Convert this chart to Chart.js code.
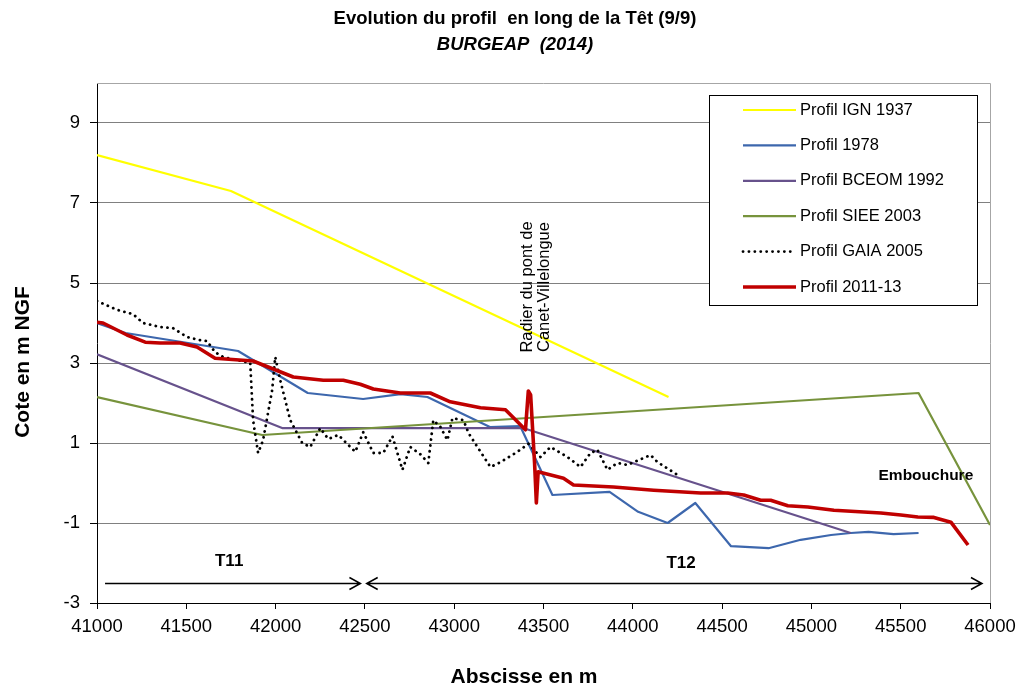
<!DOCTYPE html>
<html>
<head>
<meta charset="utf-8">
<script src="https://cdn.jsdelivr.net/npm/chart.js@4/dist/chart.umd.min.js"></script>
<style>
  html, body { margin: 0; padding: 0; background: #fff; }
  #wrap { width: 1024px; height: 690px; }
</style>
</head>
<body>
<div id="wrap"><canvas id="c" width="1024" height="690"></canvas></div>
<script>
// abscisses (m) et cotes (m NGF)
const ign1937X = [41000, 41750, 44200];
const ign1937Y = [8.2, 7.3, 2.15];

const p1978X = [41000, 41160, 41790, 42180, 42490, 42700, 42850, 43200, 43370, 43550, 43870,
  44030, 44195, 44350, 44550, 44760, 44940, 45110, 45220, 45320, 45460, 45600];
const p1978Y = [4.0, 3.75, 3.3, 2.25, 2.1, 2.22, 2.15, 1.4, 1.42, -0.3, -0.22,
  -0.72, -1.0, -0.5, -1.58, -1.63, -1.42, -1.3, -1.25, -1.22, -1.28, -1.25];

const bceomX = [41000, 42040, 43390, 45220];
const bceomY = [3.22, 1.37, 1.37, -1.25];

const sieeX = [41000, 41925, 45600, 46000];
const sieeY = [2.15, 1.2, 2.25, -1.05];

const gaiaX = [41000, 41112, 41202, 41258, 41353, 41426, 41504, 41577, 41616, 41661, 41706,
  41858, 41874, 41902, 41930, 41981, 41998, 42026, 42082, 42149, 42194, 42250, 42295, 42351,
  42446, 42491, 42547, 42603, 42654, 42710, 42754, 42810, 42855, 42883, 42923, 42962, 42990,
  43052, 43080, 43130, 43203, 43259, 43354, 43416, 43483, 43539, 43634, 43707, 43763, 43802,
  43858, 43914, 43970, 44005, 44100, 44139, 44251];
const gaiaY = [4.55, 4.33, 4.22, 4.0, 3.9, 3.87, 3.65, 3.57, 3.55, 3.27, 3.15,
  3.0, 1.57, 0.75, 1.07, 2.33, 3.15, 2.57, 1.57, 1.0, 0.9, 1.37, 1.1, 1.2,
  0.78, 1.27, 0.75, 0.75, 1.17, 0.33, 0.9, 0.72, 0.5, 1.57, 1.4, 1.07, 1.62,
  1.57, 1.25, 0.9, 0.4, 0.52, 0.78, 0.98, 0.65, 0.9, 0.65, 0.4, 0.75, 0.83,
  0.33, 0.5, 0.45, 0.52, 0.7, 0.52, 0.2];

const p2011X = [41000, 41034, 41168, 41270, 41353, 41465, 41560, 41661, 41874, 42099, 42267,
  42379, 42474, 42547, 42698, 42866, 42978, 43147, 43287, 43399, 43415, 43428, 43450, 43460,
  43470, 43612, 43668, 43892, 44117, 44380, 44531, 44621, 44716, 44772, 44868, 44980, 45126,
  45389, 45501, 45596, 45686, 45781, 45877];
const p2011Y = [4.02, 4.0, 3.7, 3.52, 3.5, 3.5, 3.4, 3.12, 3.05, 2.65, 2.57,
  2.57, 2.47, 2.35, 2.25, 2.25, 2.03, 1.88, 1.83, 1.33, 2.3, 2.2, 0.5, -0.5,
  0.28, 0.12, -0.05, -0.1, -0.18, -0.25, -0.25, -0.3, -0.43, -0.43, -0.57, -0.6, -0.68,
  -0.75, -0.8, -0.85, -0.86, -0.98, -1.55];

const xTicks = { min: 41000, max: 46000, step: 500 };
const yRange = { min: -3, max: 10 };
const yTickValues = [-3, -1, 1, 3, 5, 7, 9];

const FONT = "'Liberation Sans', Arial, sans-serif";

function pts(xs, ys) {
  return xs.map((x, i) => ({ x: x, y: ys[i] }));
}

function serie(label, xs, ys, color, width, order, dash) {
  return {
    label: label,
    data: pts(xs, ys),
    showLine: true,
    borderColor: color,
    backgroundColor: color,
    borderWidth: width,
    borderDash: dash || [],
    borderCapStyle: dash ? "round" : "butt",
    borderJoinStyle: "round",
    pointRadius: 0,
    pointHoverRadius: 0,
    tension: 0,
    order: order,
  };
}

const datasets = [
  serie("Profil IGN 1937", ign1937X, ign1937Y, "#ffff00", 2.2, 6),
  serie("Profil 1978", p1978X, p1978Y, "#3d67ad", 2.2, 5),
  serie("Profil BCEOM 1992", bceomX, bceomY, "#67528c", 2.2, 4),
  serie("Profil SIEE 2003", sieeX, sieeY, "#77933c", 2.2, 3),
  serie("Profil GAIA 2005", gaiaX, gaiaY, "#000000", 2.8, 2, [0.1, 5.8]),
  serie("Profil 2011-13", p2011X, p2011Y, "#c00000", 3.6, 1),
];

// textes, fleches, cadre et legende
const decor = {
  id: "decor",
  beforeDatasetsDraw(chart) {
    const { ctx, chartArea: a } = chart;
    ctx.save();
    ctx.strokeStyle = "#a6a6a6";
    ctx.lineWidth = 1;
    ctx.beginPath();
    ctx.moveTo(a.left, a.top + 0.5);
    ctx.lineTo(a.right + 0.5, a.top + 0.5);
    ctx.lineTo(a.right + 0.5, a.bottom);
    ctx.stroke();
    ctx.restore();
  },
  afterDraw(chart) {
    const { ctx } = chart;
    const sx = chart.scales.x, sy = chart.scales.y;
    ctx.save();
    ctx.fillStyle = "#000";
    ctx.textAlign = "center";
    ctx.textBaseline = "middle";

    ctx.font = "bold 18.5px " + FONT;
    ctx.fillText("Evolution du profil  en long de la Têt (9/9)", 515, 19);
    ctx.font = "italic bold 18.5px " + FONT;
    ctx.fillText("BURGEAP  (2014)", 515, 45);

    ctx.font = "bold 21px " + FONT;
    ctx.fillText("Abscisse en m", 524, 677);
    ctx.save();
    ctx.translate(23, 362);
    ctx.rotate(-Math.PI / 2);
    ctx.fillText("Cote en m NGF", 0, 0);
    ctx.restore();

    // pont
    ctx.font = "16.5px " + FONT;
    ctx.save();
    ctx.translate(sx.getPixelForValue(43410), sy.getPixelForValue(4.9));
    ctx.rotate(-Math.PI / 2);
    ctx.fillText("Radier du pont de", 0, 0);
    ctx.fillText("Canet-Villelongue", 0, 17);
    ctx.restore();

    ctx.font = "bold 15.5px " + FONT;
    ctx.fillText("Embouchure", sx.getPixelForValue(45641), sy.getPixelForValue(0.18));
    ctx.font = "bold 17px " + FONT;
    ctx.fillText("T11", sx.getPixelForValue(41740), sy.getPixelForValue(-1.95));
    ctx.fillText("T12", sx.getPixelForValue(44270), sy.getPixelForValue(-2.0));

    // fleches T11 / T12
    const ay = Math.round(sy.getPixelForValue(-2.5)) + 0.5;
    function arrow(x1, x2, left, right) {
      ctx.strokeStyle = "#000";
      ctx.lineWidth = 1.5;
      ctx.beginPath();
      ctx.moveTo(x1, ay);
      ctx.lineTo(x2, ay);
      if (right) {
        ctx.moveTo(x2 - 11, ay - 6);
        ctx.lineTo(x2, ay);
        ctx.lineTo(x2 - 11, ay + 6);
      }
      if (left) {
        ctx.moveTo(x1 + 11, ay - 6);
        ctx.lineTo(x1, ay);
        ctx.lineTo(x1 + 11, ay + 6);
      }
      ctx.stroke();
    }
    arrow(sx.getPixelForValue(41045), sx.getPixelForValue(42475), false, true);
    arrow(sx.getPixelForValue(42510), sx.getPixelForValue(45955), true, true);

    // legende
    const lx = 709.5, ly = 95.5, lw = 268, lh = 210;
    ctx.fillStyle = "#fff";
    ctx.fillRect(lx, ly, lw, lh);
    ctx.strokeStyle = "#000";
    ctx.lineWidth = 1;
    ctx.strokeRect(lx, ly, lw, lh);
    ctx.font = "16.5px " + FONT;
    ctx.textAlign = "left";
    chart.data.datasets.forEach((d, i) => {
      const y = 110 + i * 35.4;
      ctx.strokeStyle = d.borderColor;
      ctx.lineWidth = d.borderWidth;
      ctx.lineCap = d.borderCapStyle;
      ctx.setLineDash(d.borderDash);
      ctx.beginPath();
      ctx.moveTo(743, y);
      ctx.lineTo(796, y);
      ctx.stroke();
      ctx.setLineDash([]);
      ctx.lineCap = "butt";
      ctx.fillStyle = "#000";
      ctx.fillText(d.label, 800, y);
    });
    ctx.restore();
  },
};

new Chart(document.getElementById("c"), {
  type: "scatter",
  data: { datasets: datasets },
  options: {
    responsive: false,
    animation: false,
    layout: { padding: { top: 83, right: 34, bottom: 0, left: 0 } },
    plugins: { legend: { display: false }, title: { display: false }, tooltip: { enabled: false } },
    scales: {
      x: {
        type: "linear",
        min: xTicks.min,
        max: xTicks.max,
        afterFit: (s) => { s.height = 87; },
        ticks: {
          stepSize: xTicks.step,
          color: "#000",
          font: { family: FONT, size: 18.5 },
          padding: 7,
          maxRotation: 0,
          callback: (v) => String(v),
        },
        grid: { drawOnChartArea: false, color: "#000", tickColor: "#000", tickLength: 6 },
        border: { color: "#000", width: 1 },
      },
      y: {
        type: "linear",
        min: yRange.min,
        max: yRange.max,
        afterFit: (s) => { s.width = 97; },
        afterBuildTicks: (s) => { s.ticks = yTickValues.map((v) => ({ value: v })); },
        ticks: {
          color: "#000",
          font: { family: FONT, size: 18.5 },
          padding: 10,
          callback: (v) => String(v),
        },
        grid: { color: "#808080", tickColor: "#000", tickLength: 7, lineWidth: 1 },
        border: { color: "#000", width: 1 },
      },
    },
  },
  plugins: [decor],
});
</script>
</body>
</html>
